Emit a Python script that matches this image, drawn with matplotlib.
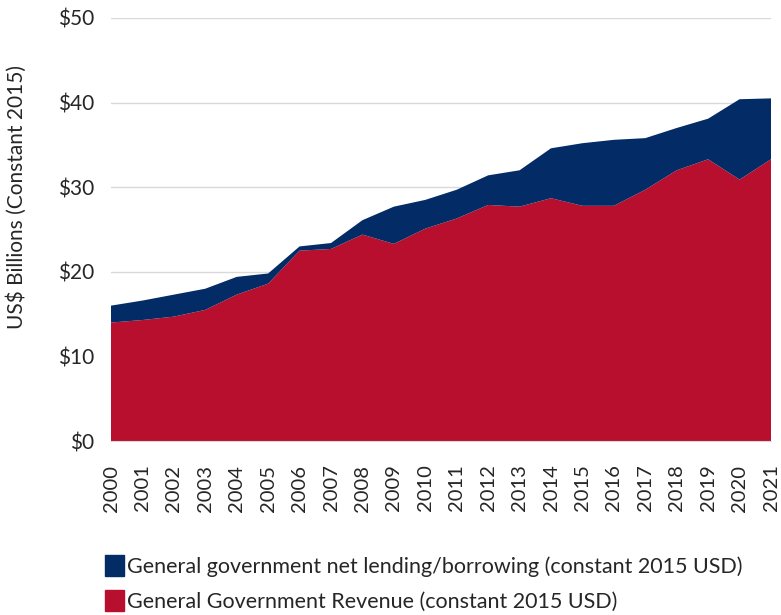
import numpy as np
import matplotlib
matplotlib.use("Agg")
import matplotlib.pyplot as plt
import matplotlib.patches as mpatches

plt.rcParams['font.family'] = ['Lato', 'DejaVu Sans']

# ==================== data (US$ billions, constant 2015) ====================
years = list(range(2000, 2022))
revenue = [14.0, 14.3, 14.7, 15.5, 17.3, 18.6, 22.5, 22.7, 24.4, 23.3, 25.1,
           26.3, 27.9, 27.7, 28.7, 27.8, 27.8, 29.7, 32.0, 33.3, 30.9, 33.3]
lending = [2.0, 2.3, 2.6, 2.5, 2.1, 1.2, 0.5, 0.7, 1.7, 4.4, 3.4,
           3.4, 3.5, 4.3, 5.9, 7.4, 7.8, 6.1, 5.0, 4.8, 9.5, 7.2]
y_ticks = [0, 10, 20, 30, 40, 50]

label_lending = "General government net lending/borrowing (constant 2015 USD)"
label_revenue = "General Government Revenue (constant 2015 USD)"

RED = '#B80F2E'
BLUE = '#032B66'
GRID = '#D9D9D9'
TEXT = '#262626'

# ==================== figure ====================
fig = plt.figure(figsize=(7.81, 6.15), dpi=100)
ax = fig.add_axes([111 / 781, 1 - 441 / 615, 660 / 781, 423 / 615])

ax.stackplot(years, revenue, lending, colors=[RED, BLUE], linewidth=0, zorder=2)

ax.set_xlim(years[0], years[-1])
ax.set_ylim(0, 50)

ax.set_yticks(y_ticks)
ax.set_yticklabels([f"${v}" for v in y_ticks], fontsize=15, color=TEXT)
ax.set_xticks(years)
ax.set_xticklabels([str(y) for y in years], rotation=90, fontsize=14.5, color=TEXT)
ax.set_xticks(years[::2], minor=True)
ax.tick_params(axis='x', which='major', length=0, pad=17)
ax.tick_params(axis='x', which='minor', length=9, color=GRID, width=1)
ax.tick_params(axis='y', length=0, pad=12)

ax.grid(axis='y', color=GRID, linewidth=1, zorder=0)
ax.set_axisbelow(True)
for side in ['top', 'right', 'left']:
    ax.spines[side].set_visible(False)
ax.spines['bottom'].set_color(GRID)

ax.set_ylabel("US$ Billions (Constant 2015)", fontsize=15, color=TEXT)
ax.yaxis.set_label_coords(-0.128, 0.577)

handles = [mpatches.Patch(color=BLUE, label=label_lending),
           mpatches.Patch(color=RED, label=label_revenue)]
fig.legend(handles=handles, loc='upper left', bbox_to_anchor=(86 / 781, 1 - 536 / 615),
           frameon=False, fontsize=15.5, handlelength=0.85, handleheight=1.1,
           handletextpad=0.15, labelspacing=0.62, labelcolor=TEXT)

fig.savefig("out.png", dpi=100)
